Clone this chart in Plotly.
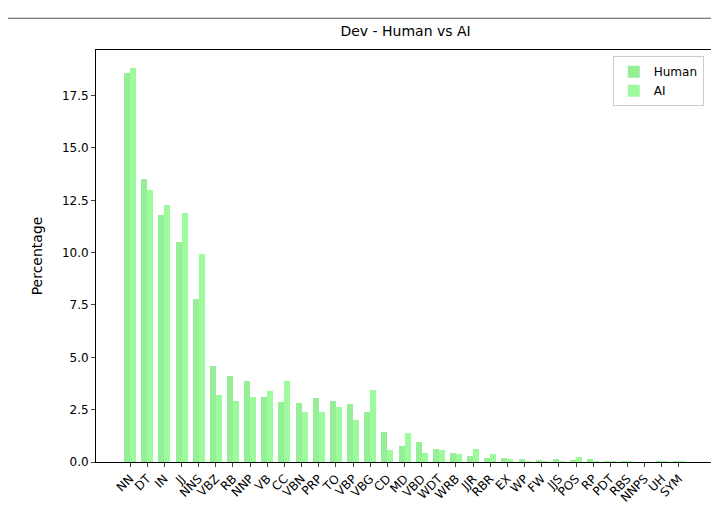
import plotly.graph_objects as go

tags = ["NN", "DT", "IN", "JJ", "NNS", "VBZ", "RB", "NNP", "VB", "CC", "VBN", "PRP", "TO", "VBP", "VBG",
        "CD", "MD", "VBD", "WDT", "WRB", "JJR", "RBR", "EX", "WP", "FW", "JJS", "POS", "RP", "PDT", "RBS",
        "NNPS", "UH", "SYM"]
human = [18.6, 13.5, 11.8, 10.5, 7.8, 4.6, 4.1, 3.85, 3.1, 2.85, 2.8, 3.05, 2.9, 2.75, 2.4,
         1.45, 0.75, 0.95, 0.6, 0.45, 0.3, 0.2, 0.2, 0.15, 0.1, 0.15, 0.1, 0.15, 0.05, 0.03,
         0.02, 0.03, 0.03]
ai = [18.8, 13.0, 12.3, 11.9, 9.95, 3.2, 2.9, 3.1, 3.4, 3.85, 2.4, 2.4, 2.65, 2.0, 3.45,
      0.55, 1.4, 0.45, 0.55, 0.4, 0.6, 0.4, 0.15, 0.05, 0.05, 0.05, 0.25, 0.05, 0.03, 0.03,
      0.02, 0.05, 0.03]

x = list(range(len(tags)))
w = 0.35

fig = go.Figure()
fig.add_trace(go.Bar(x=x, y=human, name="Human", width=w, offset=-w,
                     marker=dict(color="rgba(144,238,144,0.95)", line_width=0)))
fig.add_trace(go.Bar(x=x, y=ai, name="AI", width=w, offset=0,
                     marker=dict(color="rgba(152,251,152,0.95)", line_width=0)))

fig.update_layout(
    width=719, height=509,
    margin=dict(l=88, r=14, t=42, b=52),
    paper_bgcolor="white", plot_bgcolor="white",
    font=dict(family="DejaVu Sans", size=12, color="black"),
    title=dict(text="Dev - Human vs AI", x=0.553, xanchor="center", y=0.955, yanchor="middle",
               font=dict(size=14)),
    barmode="overlay", bargap=0,
    legend=dict(x=0.985, y=0.985, xanchor="right", yanchor="top", bordercolor="#cccccc",
                borderwidth=1, bgcolor="white", font=dict(size=12)),
    xaxis=dict(range=[-1.985, 33.985], tickvals=x, ticktext=tags, tickangle=-45,
               showline=True, linecolor="black", mirror=True, ticks="outside", ticklen=4,
               showgrid=False, zeroline=False),
    yaxis=dict(range=[0, 19.68], tickvals=[0, 2.5, 5, 7.5, 10, 12.5, 15, 17.5], tickformat=".1f",
               title=dict(text="Percentage"), showline=True, linecolor="black", mirror=True,
               ticks="outside", ticklen=4, showgrid=False, zeroline=False),
)
fig.add_shape(type="line", xref="paper", yref="paper", x0=-0.15, x1=1.05, y0=1.077, y1=1.077,
              line=dict(color="#555555", width=1))

fig.write_html("out.html")
